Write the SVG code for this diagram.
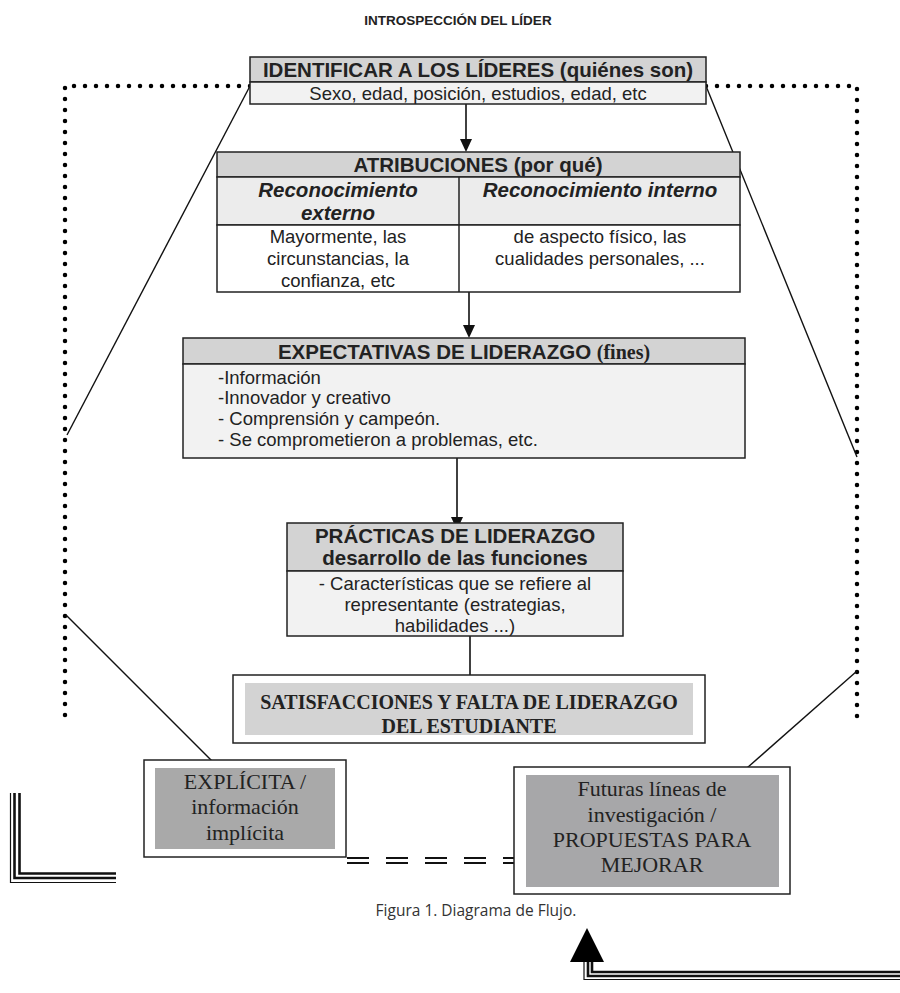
<svg xmlns="http://www.w3.org/2000/svg" width="900" height="993" viewBox="0 0 900 993">
<defs>
<style>
.bx{stroke:#222;stroke-width:1.5;}
.hd{fill:#d3d3d3;}
.lt{fill:#f2f2f2;}
.wh{fill:#ffffff;}
.b{font-family:"Liberation Sans",Arial,sans-serif;font-weight:bold;font-size:20.5px;fill:#222;}
.bi{font-family:"Liberation Sans",Arial,sans-serif;font-weight:bold;font-style:italic;font-size:20.5px;fill:#222;}
.r{font-family:"Liberation Sans",Arial,sans-serif;font-size:18.5px;fill:#222;}
.tb{font-family:"Liberation Serif","Times New Roman",serif;font-weight:bold;font-size:20px;fill:#222;}
.tr{font-family:"Liberation Serif","Times New Roman",serif;font-size:22px;fill:#222;}
.c{text-anchor:middle;}
.dot{fill:none;stroke:#000;stroke-width:4.5;stroke-linecap:round;stroke-dasharray:0 11;}
.ln{fill:none;stroke:#111;stroke-width:1.4;}
.ar{fill:none;stroke:#111;stroke-width:1.6;}
</style>
</defs>
<rect width="900" height="993" fill="#fff"/>

<text x="458" y="25" class="b c" style="font-size:13.5px">INTROSPECCIÓN DEL LÍDER</text>

<g id="connectors">
<path class="dot" d="M250,86 H65 V716"/>
<path class="dot" d="M706,86 H857 V722"/>
<path class="ln" d="M250,86 L67,435"/>
<path class="ln" d="M66,615 L212,761"/>
<path class="ln" d="M706,86 L857,457"/>
<path class="ln" d="M857,671 L739,775"/>
<path class="ar" d="M466,104 V139"/>
<path d="M460,139 L472,139 L466,152 Z" fill="#111"/>
<path class="ar" d="M469,292 V325"/>
<path d="M463,325 L475,325 L469,338 Z" fill="#111"/>
<path class="ar" d="M457,458 V517"/>
<path d="M451,517 L463,517 L457,530 Z" fill="#111"/>
<path class="ar" d="M470,628 V676"/>
<path d="M347,858 H514 M347,863 H514" fill="none" stroke="#111" stroke-width="2" stroke-dasharray="22 17"/>
<path d="M10.5,793 V882.5 H116" fill="none" stroke="#111" stroke-width="1.2"/>
<path d="M14.5,793 V878 H116" fill="none" stroke="#111" stroke-width="2.6"/>
<path d="M19.5,793 V873.5 H116" fill="none" stroke="#111" stroke-width="2.6"/>
<path d="M584,962 V979.5 H900" fill="none" stroke="#111" stroke-width="1.2"/>
<path d="M588,962 V976 H900" fill="none" stroke="#111" stroke-width="2.6"/>
<path d="M592,962 V972 H900" fill="none" stroke="#111" stroke-width="2.6"/>
<path d="M587,928 L604,962 L570,962 Z" fill="#000"/>
</g>

<g id="identificar">
<rect class="bx hd" x="250" y="57" width="456" height="25"/>
<rect class="bx lt" x="250" y="82" width="456" height="22"/>
<text class="b c" x="478" y="77">IDENTIFICAR A LOS LÍDERES (quiénes son)</text>
<text class="r c" x="478" y="100">Sexo, edad, posición, estudios, edad, etc</text>
</g>

<g id="atribuciones">
<rect class="bx hd" x="217" y="152" width="523" height="25"/>
<rect class="bx" x="217" y="177" width="523" height="48" fill="#ececec"/>
<rect class="bx wh" x="217" y="225" width="523" height="67"/>
<path class="bx" d="M459,177 V292"/>
<text class="b c" x="478" y="172">ATRIBUCIONES (por qué)</text>
<text class="bi c" x="338" y="197">Reconocimiento</text>
<text class="bi c" x="338" y="220">externo</text>
<text class="bi c" x="600" y="197">Reconocimiento interno</text>
<text class="r c" x="338" y="243">Mayormente, las</text>
<text class="r c" x="338" y="265">circunstancias, la</text>
<text class="r c" x="338" y="287">confianza, etc</text>
<text class="r c" x="600" y="243">de aspecto físico, las</text>
<text class="r c" x="600" y="265">cualidades personales, ...</text>
</g>

<g id="expectativas">
<rect class="bx hd" x="183" y="338" width="562" height="26"/>
<rect class="bx lt" x="183" y="364" width="562" height="94"/>
<text class="c" x="464" y="359"><tspan class="b">EXPECTATIVAS DE LIDERAZGO </tspan><tspan class="tb">(fines)</tspan></text>
<text class="r" x="218" y="384">-Información</text>
<text class="r" x="218" y="404">-Innovador y creativo</text>
<text class="r" x="218" y="425">- Comprensión y campeón.</text>
<text class="r" x="218" y="446">- Se comprometieron a problemas, etc.</text>
</g>

<g id="practicas">
<rect class="bx hd" x="287" y="523" width="336" height="48"/>
<rect class="bx lt" x="287" y="571" width="336" height="65"/>
<text class="b c" x="455" y="543">PRÁCTICAS DE LIDERAZGO</text>
<text class="b c" x="455" y="565">desarrollo de las funciones</text>
<text class="r c" x="455" y="590">- Características que se refiere al</text>
<text class="r c" x="455" y="611">representante (estrategias,</text>
<text class="r c" x="455" y="632">habilidades ...)</text>
</g>

<g id="satisfacciones">
<rect class="bx wh" x="233" y="675" width="472" height="68"/>
<rect x="245" y="683" width="448" height="52" fill="#d3d3d3"/>
<text class="tb c" x="469" y="709">SATISFACCIONES Y FALTA DE LIDERAZGO</text>
<text class="tb c" x="469" y="733">DEL ESTUDIANTE</text>
</g>

<g id="explicita">
<rect class="bx wh" x="144" y="760" width="202" height="97"/>
<rect x="155" y="768" width="180" height="81" fill="#a9a9a9"/>
<text class="tr c" x="245" y="789">EXPLÍCITA /</text>
<text class="tr c" x="245" y="814">información</text>
<text class="tr c" x="245" y="840">implícita</text>
</g>

<g id="futuras">
<rect class="bx wh" x="514" y="767" width="276" height="127"/>
<rect x="526" y="775" width="253" height="112" fill="#a7a7a9"/>
<text class="tr c" x="652" y="796">Futuras líneas de</text>
<text class="tr c" x="652" y="822">investigación /</text>
<text class="tr c" x="652" y="847">PROPUESTAS PARA</text>
<text class="tr c" x="652" y="872">MEJORAR</text>
</g>

<text x="476" y="916" text-anchor="middle" style="font-family:'Open Sans','Noto Sans',sans-serif;font-size:15.5px;fill:#333">Figura 1. Diagrama de Flujo.</text>
</svg>
